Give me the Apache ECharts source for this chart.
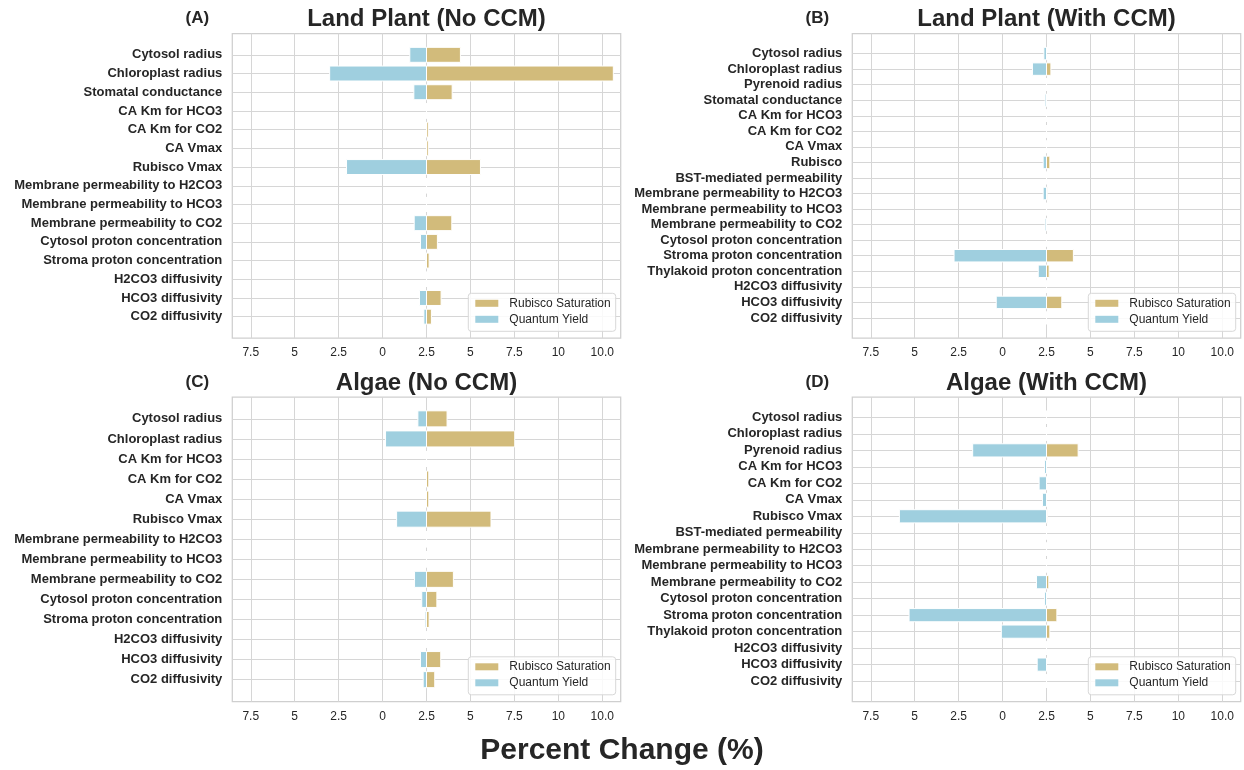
<!DOCTYPE html>
<html>
<head>
<meta charset="utf-8">
<script src="https://cdn.jsdelivr.net/npm/echarts@6/dist/echarts.min.js"></script>
<style>
  html, body { margin: 0; padding: 0; background: #ffffff; }
  #chart { width: 1244px; height: 770px; }
</style>
</head>
<body>
<div id="chart"></div>
<script>
// ---- Sensitivity data: percent change per parameter (top to bottom) ----
const landNoCcmCategories = [
  'Cytosol radius', 'Chloroplast radius', 'Stomatal conductance', 'CA Km for HCO3',
  'CA Km for CO2', 'CA Vmax', 'Rubisco Vmax', 'Membrane permeability to H2CO3',
  'Membrane permeability to HCO3', 'Membrane permeability to CO2',
  'Cytosol proton concentration', 'Stroma proton concentration',
  'H2CO3 diffusivity', 'HCO3 diffusivity', 'CO2 diffusivity'
];
const landNoCcmRubisco = [1.93, 10.63, 1.46, 0, 0.1, 0.1, 3.07, 0, 0, 1.44, 0.62, 0.15, 0, 0.83, 0.28];
const landNoCcmQuantum = [-0.95, -5.51, -0.72, 0, 0, 0, -4.55, 0, 0, -0.7, -0.34, -0.05, 0, -0.4, -0.15];

const landCcmCategories = [
  'Cytosol radius', 'Chloroplast radius', 'Pyrenoid radius', 'Stomatal conductance',
  'CA Km for HCO3', 'CA Km for CO2', 'CA Vmax', 'Rubisco', 'BST-mediated permeability',
  'Membrane permeability to H2CO3', 'Membrane permeability to HCO3',
  'Membrane permeability to CO2', 'Cytosol proton concentration',
  'Stroma proton concentration', 'Thylakoid proton concentration',
  'H2CO3 diffusivity', 'HCO3 diffusivity', 'CO2 diffusivity'
];
const landCcmRubisco = [0, 0.25, 0, 0, 0, 0, 0, 0.19, 0, 0.04, 0, 0, 0, 1.53, 0.15, 0, 0.87, 0];
const landCcmQuantum = [-0.15, -0.8, 0, -0.08, 0, 0, 0, -0.19, 0, -0.19, 0, -0.08, 0, -5.26, -0.47, 0, -2.86, 0];

const algaeNoCcmCategories = [
  'Cytosol radius', 'Chloroplast radius', 'CA Km for HCO3', 'CA Km for CO2', 'CA Vmax',
  'Rubisco Vmax', 'Membrane permeability to H2CO3', 'Membrane permeability to HCO3',
  'Membrane permeability to CO2', 'Cytosol proton concentration',
  'Stroma proton concentration', 'H2CO3 diffusivity', 'HCO3 diffusivity', 'CO2 diffusivity'
];
const algaeNoCcmRubisco = [1.17, 5.02, 0, 0.13, 0.13, 3.67, 0, 0, 1.53, 0.59, 0.15, 0, 0.81, 0.47];
const algaeNoCcmQuantum = [-0.49, -2.33, 0, 0, 0, -1.7, 0, 0, -0.68, -0.27, -0.08, 0, -0.34, -0.19];

const algaeCcmCategories = [
  'Cytosol radius', 'Chloroplast radius', 'Pyrenoid radius', 'CA Km for HCO3',
  'CA Km for CO2', 'CA Vmax', 'Rubisco Vmax', 'BST-mediated permeability',
  'Membrane permeability to H2CO3', 'Membrane permeability to HCO3',
  'Membrane permeability to CO2', 'Cytosol proton concentration',
  'Stroma proton concentration', 'Thylakoid proton concentration',
  'H2CO3 diffusivity', 'HCO3 diffusivity', 'CO2 diffusivity'
];
const algaeCcmRubisco = [0, 0, 1.8, 0, 0, 0, 0.05, 0, 0, 0, 0.13, 0, 0.59, 0.19, 0, 0, 0];
const algaeCcmQuantum = [0, 0, -4.2, -0.11, -0.42, -0.23, -8.37, 0, 0, 0, -0.57, -0.11, -7.82, -2.57, 0, -0.53, 0];

// Tick positions on the percent axis and the strings printed under them
const xTickValues = [-10, -7.5, -5, -2.5, 0, 2.5, 5, 7.5, 10];
const xTickLabels = ['7.5', '5', '2.5', '0', '2.5', '5', '7.5', '10', '10.0'];

const seriesNames = ['Rubisco Saturation', 'Quantum Yield'];
const panelTitles = ['Land Plant (No CCM)', 'Land Plant (With CCM)', 'Algae (No CCM)', 'Algae (With CCM)'];
const panelLetters = ['(A)', '(B)', '(C)', '(D)'];
const axisTitle = 'Percent Change (%)';

// ---- Layout / style ----
const FONT = '"Liberation Sans", Arial, Helvetica, sans-serif';
const TEXT = '#262626';
const GRID_LINE = '#d6d6d6';
const RUBISCO_COLOR = '#d2bb7b';
const QUANTUM_COLOR = '#9fcfdf';
const X_LIMIT = 11.05;
const BAR_HALF = 0.4;

const panels = [
  { cats: landNoCcmCategories,  rub: landNoCcmRubisco,  qy: landNoCcmQuantum,  left: 232.3, top: 33.5 },
  { cats: landCcmCategories,    rub: landCcmRubisco,    qy: landCcmQuantum,    left: 852.3, top: 33.5 },
  { cats: algaeNoCcmCategories, rub: algaeNoCcmRubisco, qy: algaeNoCcmQuantum, left: 232.3, top: 397 },
  { cats: algaeCcmCategories,   rub: algaeCcmRubisco,   qy: algaeCcmQuantum,   left: 852.3, top: 397 }
];
const PLOT_W = 388.4;
const PLOT_H = 304.5;

function makeRenderer(color) {
  return function (params, api) {
    const v = api.value(0);
    const idx = api.value(1);
    const a = api.coord([0, idx - BAR_HALF]);
    const b = api.coord([v, idx + BAR_HALF]);
    return {
      type: 'rect',
      shape: {
        x: Math.min(a[0], b[0]),
        y: Math.min(a[1], b[1]),
        width: Math.abs(b[0] - a[0]),
        height: Math.abs(b[1] - a[1])
      },
      style: { fill: color, stroke: '#ffffff', lineWidth: 1 }
    };
  };
}

const grids = [], xAxes = [], yAxes = [], series = [], legends = [], graphics = [];

panels.forEach((p, i) => {
  const n = p.cats.length;
  const pad = BAR_HALF + 0.05 * (n - 1 + 2 * BAR_HALF);
  const idxValues = p.cats.map((_, k) => k);

  grids.push({
    left: p.left, top: p.top, width: PLOT_W, height: PLOT_H,
    show: true, backgroundColor: 'transparent',
    borderColor: '#cfcfcf', borderWidth: 1.25,
    containLabel: false, outerBoundsMode: 'none'
  });

  xAxes.push({
    gridIndex: i, type: 'value', min: -X_LIMIT, max: X_LIMIT,
    axisLine: { show: false },
    axisTick: { show: false, customValues: xTickValues },
    axisLabel: {
      customValues: xTickValues,
      formatter: v => xTickLabels[xTickValues.indexOf(v)],
      color: TEXT, fontSize: 12, fontFamily: FONT, margin: 9
    },
    splitLine: { show: true, lineStyle: { color: GRID_LINE, width: 1 } }
  });

  yAxes.push({
    gridIndex: i, type: 'value', inverse: true, min: -pad, max: n - 1 + pad,
    axisLine: { show: false },
    axisTick: { show: false, customValues: idxValues },
    axisLabel: {
      customValues: idxValues,
      formatter: v => p.cats[Math.round(v)],
      color: TEXT, fontSize: 13, fontWeight: 'bold', fontFamily: FONT, margin: 10
    },
    splitLine: { show: true, lineStyle: { color: GRID_LINE, width: 1 } }
  });

  [[p.rub, RUBISCO_COLOR, seriesNames[0]], [p.qy, QUANTUM_COLOR, seriesNames[1]]].forEach(([vals, color, name]) => {
    series.push({
      type: 'custom', name: name,
      xAxisIndex: i, yAxisIndex: i,
      coordinateSystem: 'cartesian2d',
      encode: { x: 0, y: 1 },
      itemStyle: { color: color },
      renderItem: makeRenderer(color),
      data: vals.map((v, k) => [v, k]),
      silent: true
    });
  });

  legends.push({
    orient: 'vertical',
    left: p.left + 236, top: p.top + 259.8,
    data: seriesNames,
    icon: 'rect', itemWidth: 23, itemHeight: 7, itemGap: 2,
    padding: [3, 5, 5, 7],
    backgroundColor: 'rgba(255,255,255,0.85)',
    borderColor: '#d8d8d8', borderWidth: 1, borderRadius: 3,
    selectedMode: false,
    textStyle: { fontSize: 12, color: TEXT, fontFamily: FONT, lineHeight: 14, padding: [0, 0, 0, 6] }
  });

  const midX = p.left + PLOT_W / 2;
  const titleY = p.top - 14;
  graphics.push({
    type: 'text', x: midX, y: titleY,
    style: { text: panelTitles[i], font: 'bold 24px ' + FONT, fill: TEXT, textAlign: 'center', textVerticalAlign: 'middle' }
  });
  graphics.push({
    type: 'text', x: p.left - 35, y: titleY - 1,
    style: { text: panelLetters[i], font: 'bold 17px ' + FONT, fill: TEXT, textAlign: 'center', textVerticalAlign: 'middle' }
  });
});

graphics.push({
  type: 'text', x: 622, y: 751,
  style: { text: axisTitle, font: 'bold 30px ' + FONT, fill: TEXT, textAlign: 'center', textVerticalAlign: 'middle' }
});

const chart = echarts.init(document.getElementById('chart'), null, { renderer: 'canvas' });
chart.setOption({
  animation: false,
  backgroundColor: '#ffffff',
  textStyle: { fontFamily: FONT },
  grid: grids,
  xAxis: xAxes,
  yAxis: yAxes,
  legend: legends,
  series: series,
  graphic: graphics
});
</script>
</body>
</html>
